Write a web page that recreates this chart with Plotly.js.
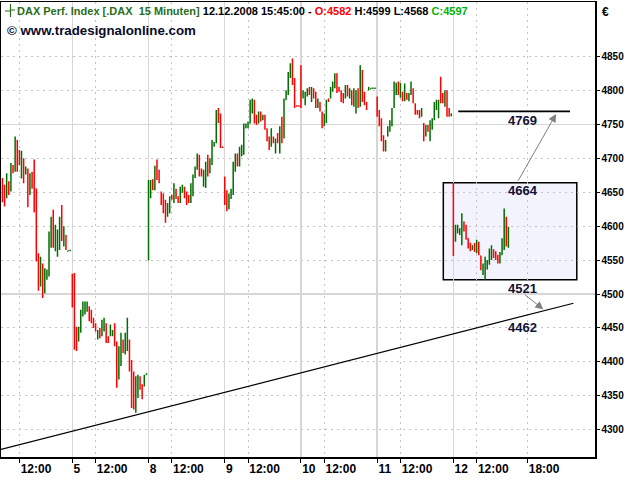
<!DOCTYPE html>
<html><head><meta charset="utf-8">
<script src="https://cdn.plot.ly/plotly-3.0.1.min.js"></script>
<style>html,body{margin:0;padding:0;background:#fff}</style>
</head><body>
<div id="chart" style="width:640px;height:480px"></div>
<script>
// ---- data: DAX 15-minute bars [open, high, low, close] ----
const dayLabels = ['4', '5', '8', '9', '10', '11', '12'];
const barsPerDay = 36;          // 09:15 ... 18:00
const firstSlot = 3;            // first visible bar of 4 Dec
const noonSlot = 11;            // 12:00 bar
const lateSlot = 35;            // 18:00 bar
const priceTicks = [4300, 4350, 4400, 4450, 4500, 4550, 4600, 4650, 4700, 4750, 4800, 4850];

const dec04 = [
 [4660,4671,4635,4648],[4652,4661,4629,4645],[4645,4678,4641,4662],[4663,4666,4646,4652],
 [4652,4693,4651,4688],[4688,4690,4678,4680],[4682,4732,4680,4725],[4726,4727,4680,4695],
 [4706,4712,4690,4696],[4688,4711,4670,4700],[4698,4700,4663,4685],[4680,4688,4676,4686],
 [4680,4685,4628,4650],[4649,4678,4646,4662],[4675,4680,4655,4660],[4658,4698,4620,4655],
 [4655,4655,4548,4550],[4555,4560,4505,4525],[4515,4555,4511,4540],[4540,4545,4494,4505],
 [4506,4538,4501,4530],[4525,4536,4521,4530],[4530,4592,4526,4580],[4578,4614,4568,4600],
 [4610,4624,4568,4590],[4580,4602,4563,4600],[4575,4595,4555,4583],[4575,4614,4565,4602],
 [4620,4631,4578,4588],[4575,4600,4570,4590],[4585,4587,4565,4570],[4563,4564,4563,4564],
 [4564,4564,4563,4564]
];
const dec05 = [
 [4525,4530,4480,4505],[4500,4531,4418,4440],[4450,4452,4416,4425],[4432,4452,4430,4448],
 [4445,4477,4443,4470],[4470,4489,4467,4480],[4472,4489,4470,4485],[4478,4489,4474,4482],
 [4480,4482,4460,4462],[4470,4477,4457,4460],[4462,4465,4450,4455],[4455,4457,4445,4448],
 [4436,4447,4433,4445],[4448,4450,4435,4440],[4440,4462,4438,4458],[4450,4465,4445,4460],
 [4455,4457,4428,4432],[4436,4438,4428,4430],[4440,4455,4438,4450],[4440,4447,4438,4445],
 [4450,4457,4423,4428],[4428,4430,4362,4380],[4378,4423,4374,4410],[4400,4443,4394,4430],
 [4430,4433,4413,4415],[4415,4443,4411,4435],[4420,4465,4416,4455],[4430,4433,4386,4390],
 [4400,4403,4332,4345],[4380,4386,4330,4340],[4330,4379,4325,4360],[4355,4381,4347,4375],
 [4375,4379,4359,4365],[4362,4367,4345,4350],[4366,4381,4364,4378],[4381,4383,4381,4383]
];
const dec08 = [
 [4550,4668,4550,4660],[4645,4668,4641,4662],[4665,4669,4653,4655],[4656,4689,4653,4685],
 [4695,4698,4668,4675],[4680,4683,4663,4665],[4650,4651,4631,4635],[4645,4648,4619,4625],
 [4630,4639,4605,4612],[4616,4634,4614,4630],[4622,4644,4619,4640],[4645,4646,4639,4640],
 [4636,4663,4634,4660],[4650,4655,4640,4643],[4642,4644,4634,4636],[4636,4658,4634,4655],
 [4652,4661,4649,4658],[4656,4658,4641,4645],[4648,4651,4631,4635],[4645,4646,4634,4638],
 [4636,4663,4634,4660],[4648,4676,4644,4672],[4672,4688,4671,4685],[4685,4707,4683,4702],
 [4702,4705,4673,4680],[4682,4685,4673,4676],[4662,4683,4658,4680],[4660,4695,4656,4690],
 [4702,4705,4673,4680],[4680,4700,4678,4695],[4695,4727,4690,4722],[4718,4724,4717,4722],
 [4725,4771,4722,4765],[4770,4774,4752,4758],[4762,4766,4715,4720],[4716,4717,4715,4716]
];
const dec09 = [
 [4668,4673,4631,4640],[4650,4653,4622,4625],[4628,4648,4625,4645],[4645,4655,4640,4652],
 [4650,4695,4646,4690],[4685,4707,4680,4702],[4705,4707,4688,4692],[4690,4717,4688,4712],
 [4705,4720,4703,4716],[4712,4751,4705,4745],[4745,4751,4744,4749],[4746,4754,4744,4752],
 [4752,4786,4751,4780],[4770,4788,4766,4784],[4784,4786,4751,4755],[4760,4764,4749,4752],
 [4753,4769,4751,4765],[4766,4769,4754,4758],[4757,4764,4756,4762],[4762,4764,4742,4745],
 [4742,4744,4725,4728],[4728,4732,4712,4716],[4718,4744,4717,4740],[4730,4732,4722,4725],
 [4710,4729,4707,4726],[4735,4737,4722,4724],[4712,4747,4707,4742],[4758,4761,4722,4725],
 [4730,4788,4729,4780],[4786,4800,4786,4798],[4795,4827,4793,4822],[4820,4840,4818,4835],
 [4842,4847,4808,4812],[4812,4818,4774,4778],[4777,4778,4776,4777],[4777,4778,4776,4777]
];
const dec10 = [
 [4832,4837,4774,4800],[4790,4800,4788,4798],[4782,4798,4778,4795],[4792,4803,4791,4800],
 [4803,4805,4793,4796],[4786,4805,4783,4800],[4800,4803,4788,4790],[4795,4798,4774,4778],
 [4776,4788,4774,4786],[4780,4783,4769,4772],[4766,4769,4744,4748],[4750,4766,4747,4762],
 [4756,4786,4752,4783],[4787,4788,4783,4784],[4790,4805,4788,4802],[4800,4813,4798,4810],
 [4806,4825,4803,4822],[4822,4825,4796,4800],[4804,4805,4798,4800],[4798,4800,4783,4786],
 [4794,4796,4781,4784],[4790,4808,4788,4805],[4806,4808,4791,4794],[4790,4803,4788,4800],
 [4798,4800,4778,4782],[4778,4803,4776,4800],[4770,4800,4766,4795],[4800,4803,4774,4778],
 [4780,4837,4776,4830],[4828,4830,4783,4790],[4795,4798,4778,4782],[4782,4783,4771,4774],
 [4801,4805,4800,4804],[4802,4803,4802,4803],[4803,4803,4802,4803],[4803,4803,4802,4803]
];
const dec11 = [
 [4788,4791,4761,4765],[4768,4771,4747,4750],[4745,4759,4725,4730],[4730,4734,4710,4714],
 [4714,4727,4710,4724],[4735,4747,4732,4745],[4742,4756,4739,4752],[4750,4774,4747,4770],
 [4776,4813,4774,4808],[4795,4811,4793,4808],[4810,4813,4793,4796],[4792,4811,4789,4806],
 [4796,4798,4784,4788],[4786,4810,4784,4806],[4795,4796,4786,4788],[4786,4796,4784,4794],
 [4795,4813,4793,4810],[4800,4803,4781,4784],[4780,4781,4764,4766],[4770,4771,4764,4766],
 [4769,4771,4759,4762],[4763,4774,4761,4772],[4750,4752,4725,4730],[4734,4749,4732,4746],
 [4747,4749,4739,4742],[4730,4756,4725,4752],[4745,4759,4742,4756],[4758,4783,4756,4780],
 [4773,4786,4771,4784],[4765,4786,4759,4782],[4815,4820,4781,4785],[4794,4796,4781,4783],
 [4780,4800,4776,4795],[4798,4800,4761,4765],[4772,4774,4761,4763],[4763,4766,4762,4765]
];
const dec12 = [
 [4662,4664,4556,4578],[4580,4602,4577,4598],[4590,4602,4590,4596],[4592,4597,4587,4595],
 [4578,4619,4572,4610],[4605,4607,4592,4595],[4598,4602,4580,4585],[4582,4582,4567,4570],
 [4575,4575,4563,4566],[4566,4572,4565,4570],[4572,4575,4562,4564],[4563,4580,4560,4576],
 [4575,4577,4557,4560],[4556,4556,4535,4540],[4532,4545,4528,4540],[4528,4555,4521,4548],
 [4540,4550,4536,4546],[4545,4567,4543,4562],[4555,4572,4550,4566],[4565,4566,4553,4556],
 [4558,4563,4550,4552],[4555,4558,4545,4548],[4548,4562,4545,4558],[4558,4582,4558,4578],
 [4580,4626,4565,4612],[4612,4614,4570,4582],[4582,4599,4568,4597]
];

// drawn levels / trend line
const levelValues = [4769, 4664, 4521, 4462];   // resistance line, box top, box bottom, trend value
const trendX = [2.3, 272.7];
const trendY = [4271.2, 4486.4];
const resistX = [218.3, 271.1];
const boxX = [211.25, 274.3];

// ---- build ----
const bars = [].concat(dec04, dec05, dec08, dec09, dec10, dec11, dec12);
const xs = bars.map((b, i) => firstSlot + i);
const O = bars.map(b => b[0]), H = bars.map(b => b[1]), L = bars.map(b => b[2]), C = bars.map(b => b[3]);

const tickVals = [], tickText = [], dayStarts = [];
dayLabels.forEach((d, k) => {
  if (k > 0) { tickVals.push(k * barsPerDay); tickText.push(d); dayStarts.push(k * barsPerDay); }
  tickVals.push(k * barsPerDay + noonSlot); tickText.push('12:00');
});
tickVals.push((dayLabels.length - 1) * barsPerDay + lateSlot); tickText.push('18:00');

const last = bars[bars.length - 1];
const FONT = 'Liberation Sans, Arial, sans-serif';
const XR = [2.32, 282.9], YR = [4260, 4930.1];
const px2px = px => (px - 1) / 594, py2py = py => (457 - py) / 455;

const traces = [
  { type: 'ohlc', x: xs, open: O, high: H, low: L, close: C,
    increasing: { line: { color: '#006e00', width: 1.5 } },
    decreasing: { line: { color: '#ff0000', width: 1.5 } },
    tickwidth: 0.35, hoverinfo: 'skip', showlegend: false },
  { type: 'scatter', mode: 'lines', x: trendX, y: trendY, xaxis: 'x2', yaxis: 'y2',
    line: { color: '#000', width: 1.2 }, hoverinfo: 'skip', showlegend: false },
  { type: 'scatter', mode: 'lines', x: resistX, y: [levelValues[0], levelValues[0]], xaxis: 'x2', yaxis: 'y2',
    line: { color: '#000', width: 1.6 }, hoverinfo: 'skip', showlegend: false }
];

const lblFont = { family: FONT, size: 13, color: '#111133', weight: 'bold' };
const midX = 248.8;
const layout = {
  width: 640, height: 480,
  margin: { l: 1, r: 45, t: 2, b: 23 },
  paper_bgcolor: '#fff', plot_bgcolor: '#fff',
  showlegend: false,
  title: {
    text: '<b>DAX Perf. Index [.DAX\u00a0\u00a015 Minuten] <span style="color:#000">12.12.2008 15:45:00 - </span>' +
          '<span style="color:#ff0000">O:' + last[0] + '</span> <span style="color:#000">H:' + last[1] + ' L:' + last[2] + '</span> ' +
          '<span style="color:#00b400">C:' + last[3] + '</span></b>',
    x: 17 / 640, xanchor: 'left', xref: 'container',
    y: 1 - 11 / 480, yanchor: 'middle', yref: 'container',
    font: { family: FONT, size: 11, color: '#2a6e1a' }
  },
  xaxis: {
    range: XR, tickvals: tickVals, ticktext: tickText, tickangle: 0,
    ticks: 'outside', ticklen: 4, tickcolor: '#000', tickwidth: 1,
    ticklabelposition: 'outside right',
    tickfont: { family: FONT, size: 12, color: '#000', weight: 'bold' },
    showgrid: true, gridcolor: '#c4c4c4', gridwidth: 1, griddash: '2px,4px',
    showline: true, linecolor: '#000', linewidth: 1.5, mirror: true,
    zeroline: false, rangeslider: { visible: false }, fixedrange: true
  },
  yaxis: {
    range: YR, side: 'right', tickvals: priceTicks, ticktext: priceTicks.map(String),
    ticks: 'outside', ticklen: 3, tickcolor: '#000',
    tickfont: { family: FONT, size: 10, color: '#000', weight: 'bold' },
    showgrid: true, gridcolor: '#c4c4c4', gridwidth: 1, griddash: '2px,4px',
    showline: true, linecolor: '#000', linewidth: 1.5, mirror: true,
    zeroline: false, fixedrange: true
  },
  xaxis2: { overlaying: 'x', anchor: 'y2', range: XR, tickvals: dayStarts, showticklabels: false,
    ticks: '', showgrid: true, gridcolor: '#d6d6d6', gridwidth: 1.5, zeroline: false, showline: false, fixedrange: true },
  yaxis2: { overlaying: 'y', anchor: 'x2', side: 'right', range: YR, tickvals: [4500, 4750], showticklabels: false,
    ticks: '', showgrid: true, gridcolor: '#d6d6d6', gridwidth: 1.5, zeroline: false, showline: false, fixedrange: true },
  shapes: [
    { type: 'rect', xref: 'x', yref: 'y', x0: boxX[0], x1: boxX[1], y0: levelValues[2], y1: levelValues[1],
      fillcolor: '#f3f3fd', line: { color: '#000', width: 1.5 }, layer: 'below' },
    // legend glyph in header
    { type: 'path', xref: 'paper', yref: 'paper',
      path: 'M' + px2px(10.5) + ',' + py2py(4) + ' L' + px2px(10.5) + ',' + py2py(17) +
            ' M' + px2px(5) + ',' + py2py(11) + ' L' + px2px(10.5) + ',' + py2py(11) +
            ' M' + px2px(10.5) + ',' + py2py(10) + ' L' + px2px(15) + ',' + py2py(10),
      line: { color: '#2a6e1a', width: 1.2 } }
  ],
  annotations: [
    { xref: 'paper', yref: 'paper', x: px2px(5), y: py2py(30), xanchor: 'left', yanchor: 'middle',
      text: '<b>© www.tradesignalonline.com</b>', showarrow: false,
      font: { family: FONT, size: 13.3, color: '#0a0a2a' } },
    { xref: 'paper', yref: 'paper', x: px2px(600), y: py2py(12), xanchor: 'left', yanchor: 'middle',
      text: '<b>€</b>', showarrow: false, font: { family: FONT, size: 12, color: '#000' } },
    { x: midX, y: 4756.3, text: String(levelValues[0]), showarrow: false, font: lblFont },
    { x: midX, y: 4653.2, text: String(levelValues[1]), showarrow: false, font: lblFont },
    { x: midX, y: 4508.5, text: String(levelValues[2]), showarrow: false, font: lblFont },
    { x: midX, y: 4451.0, text: String(levelValues[3]), showarrow: false, font: lblFont },
    { x: 264.5, y: 4765, ax: 246.2, ay: 4664.6, axref: 'x', ayref: 'y', text: '', showarrow: true,
      arrowhead: 2, arrowsize: 1.6, arrowwidth: 1, arrowcolor: '#808080', standoff: 0 },
    { x: 258.5, y: 4477.5, ax: 249.0, ay: 4501, axref: 'x', ayref: 'y', text: '', showarrow: true,
      arrowhead: 2, arrowsize: 1.6, arrowwidth: 1, arrowcolor: '#808080', standoff: 0 }
  ]
};

Plotly.newPlot('chart', traces, layout, { staticPlot: true, displayModeBar: false });
</script>
</body></html>
